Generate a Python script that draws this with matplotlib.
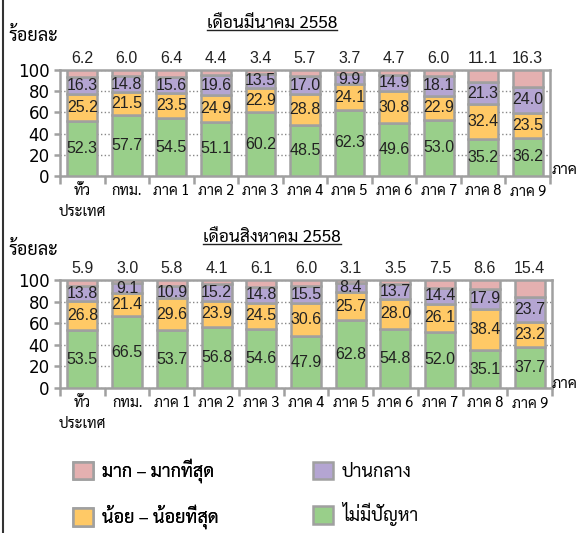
import numpy as np
import matplotlib
matplotlib.use('Agg')
import matplotlib.pyplot as plt
from matplotlib import font_manager
from matplotlib.ft2font import FT2Font
from matplotlib.lines import Line2D
from matplotlib.patches import Patch

# categories
regions = ['ทั่ว\nประเทศ', 'กทม.', 'ภาค 1', 'ภาค 2', 'ภาค 3', 'ภาค 4',
           'ภาค 5', 'ภาค 6', 'ภาค 7', 'ภาค 8', 'ภาค 9']

# March 2558
mar_none = [52.3, 57.7, 54.5, 51.1, 60.2, 48.5, 62.3, 49.6, 53.0, 35.2, 36.2]
mar_low = [25.2, 21.5, 23.5, 24.9, 22.9, 28.8, 24.1, 30.8, 22.9, 32.4, 23.5]
mar_mid = [16.3, 14.8, 15.6, 19.6, 13.5, 17.0, 9.9, 14.9, 18.1, 21.3, 24.0]
mar_high = [6.2, 6.0, 6.4, 4.4, 3.4, 5.7, 3.7, 4.7, 6.0, 11.1, 16.3]

# August 2558
aug_none = [53.5, 66.5, 53.7, 56.8, 54.6, 47.9, 62.8, 54.8, 52.0, 35.1, 37.7]
aug_low = [26.8, 21.4, 29.6, 23.9, 24.5, 30.6, 25.7, 28.0, 26.1, 38.4, 23.2]
aug_mid = [13.8, 9.1, 10.9, 15.2, 14.8, 15.5, 8.4, 13.7, 14.4, 17.9, 23.7]
aug_high = [5.9, 3.0, 5.8, 4.1, 6.1, 6.0, 3.1, 3.5, 7.5, 8.6, 15.4]

series_names = ['ไม่มีปัญหา', 'น้อย – น้อยที่สุด', 'ปานกลาง', 'มาก – มากที่สุด']
colors = ['#99CF8A', '#FFC966', '#B4A5D2', '#E4B0B0']
EDGE = '#A0A0A0'


def thai_font():
    # regular, static fonts that have Thai glyphs; prefer plain sans faces
    found = set()
    for f in font_manager.fontManager.ttflist:
        if f.style != 'normal' or f.weight != 400 or '[' in f.fname:
            continue
        try:
            if ord('ก') in FT2Font(f.fname).get_charmap():
                found.add(f.name)
        except Exception:
            pass
    for name in ['Noto Sans Thai Looped', 'Noto Sans Thai', 'Sarabun',
                 'IBM Plex Sans Thai Looped', 'IBM Plex Sans Thai', 'Athiti']:
        if name in found:
            return name
    return sorted(found)[0] if found else 'DejaVu Sans'


THAI = thai_font()
plt.rcParams['font.family'] = [THAI, 'DejaVu Sans']
NUM_FONT = ['Liberation Sans', 'DejaVu Sans']

fig = plt.figure(figsize=(5.79, 5.33), dpi=100)
W, H = 579, 533


def draw_panel(rect, data, title, title_y, xlab_y):
    ax = fig.add_axes(rect)
    x = np.arange(len(regions))
    bottom = np.zeros(len(regions))
    for i, (vals, c) in enumerate(zip(data, colors)):
        vals = np.array(vals)
        ax.bar(x, vals, 0.67, bottom=bottom, color=c, edgecolor=EDGE,
               linewidth=1.8, zorder=3)
        if i < 3:
            for xi, b, v in zip(x, bottom, vals):
                ax.text(xi, b + v / 2, f'{v:.1f}', ha='center', va='center',
                        fontsize=11.5, color='#222222', zorder=4,
                        family=NUM_FONT)
        else:
            for xi, v in zip(x, vals):
                ax.annotate(f'{v:.1f}', (xi, 100), xytext=(0, 3),
                            textcoords='offset points', ha='center',
                            va='bottom', fontsize=11.5, color='#222222',
                            family=NUM_FONT)
        bottom = bottom + vals
    ax.set_xlim(-0.5, len(regions) - 0.5)
    ax.set_ylim(0, 100)
    ax.set_yticks(range(0, 101, 20))
    ax.yaxis.grid(True, linestyle=':', color='#888888', linewidth=1, zorder=0)
    ax.set_xticks(x)
    ax.set_xticklabels(regions, fontsize=10.5, linespacing=1.6, va='top')
    ax.set_xticks(np.arange(-0.5, len(regions)), minor=True)
    ax.tick_params(axis='x', which='major', length=0, pad=6)
    ax.tick_params(axis='x', which='minor', length=6, color=EDGE, width=1.8)
    ax.tick_params(axis='y', length=4, color=EDGE, width=1.8, labelsize=12)
    for lab in ax.get_yticklabels():
        lab.set_family('DejaVu Sans')
    for s in ax.spines.values():
        s.set_color(EDGE)
        s.set_linewidth(1.8)
    fig.text(578 / W, 1 - xlab_y / H, 'ภาค', fontsize=11,
             ha='right', va='center')
    fig.text(8 / W, 1 - (title_y + 12) / H, 'ร้อยละ', fontsize=13,
             ha='left', va='center')
    t = fig.text(272 / W, 1 - title_y / H, title, fontsize=12.5,
                 ha='center', va='center')
    return ax, t


ax1, t1 = draw_panel([60 / W, 1 - 176 / H, 490 / W, 106 / H],
                     [mar_none, mar_low, mar_mid, mar_high],
                     'เดือนมีนาคม 2558', 24, 170)
ax2, t2 = draw_panel([60 / W, 1 - 388 / H, 492 / W, 108 / H],
                     [aug_none, aug_low, aug_mid, aug_high],
                     'เดือนสิงหาคม 2558', 238, 384)

# underline the titles
fig.canvas.draw()
r = fig.canvas.get_renderer()
for t in (t1, t2):
    bb = t.get_window_extent(r).transformed(fig.transFigure.inverted())
    fig.add_artist(Line2D([bb.x0, bb.x1], [bb.y0 + 0.004, bb.y0 + 0.004],
                          transform=fig.transFigure, color='#222222', lw=1))

# left frame edge
fig.add_artist(Line2D([3 / W, 3 / W], [0, 1], transform=fig.transFigure,
                      color='#333333', lw=1.5))


def patch(c):
    return Patch(facecolor=c, edgecolor=EDGE, lw=1.8)


leg_kw = dict(frameon=False, fontsize=13, handlelength=1.1, handleheight=1.1,
              labelspacing=1.2, handletextpad=0.5, borderpad=0,
              borderaxespad=0, loc='center left')
leg1 = fig.legend([patch(colors[3]), patch(colors[1])],
                  [series_names[3], series_names[1]],
                  bbox_to_anchor=(73 / W, 1 - 494 / H), **leg_kw)
fig.add_artist(leg1)
fig.legend([patch(colors[2]), patch(colors[0])],
           [series_names[2], series_names[0]],
           bbox_to_anchor=(313 / W, 1 - 494 / H), **leg_kw)

fig.savefig('out.png', dpi=100)
